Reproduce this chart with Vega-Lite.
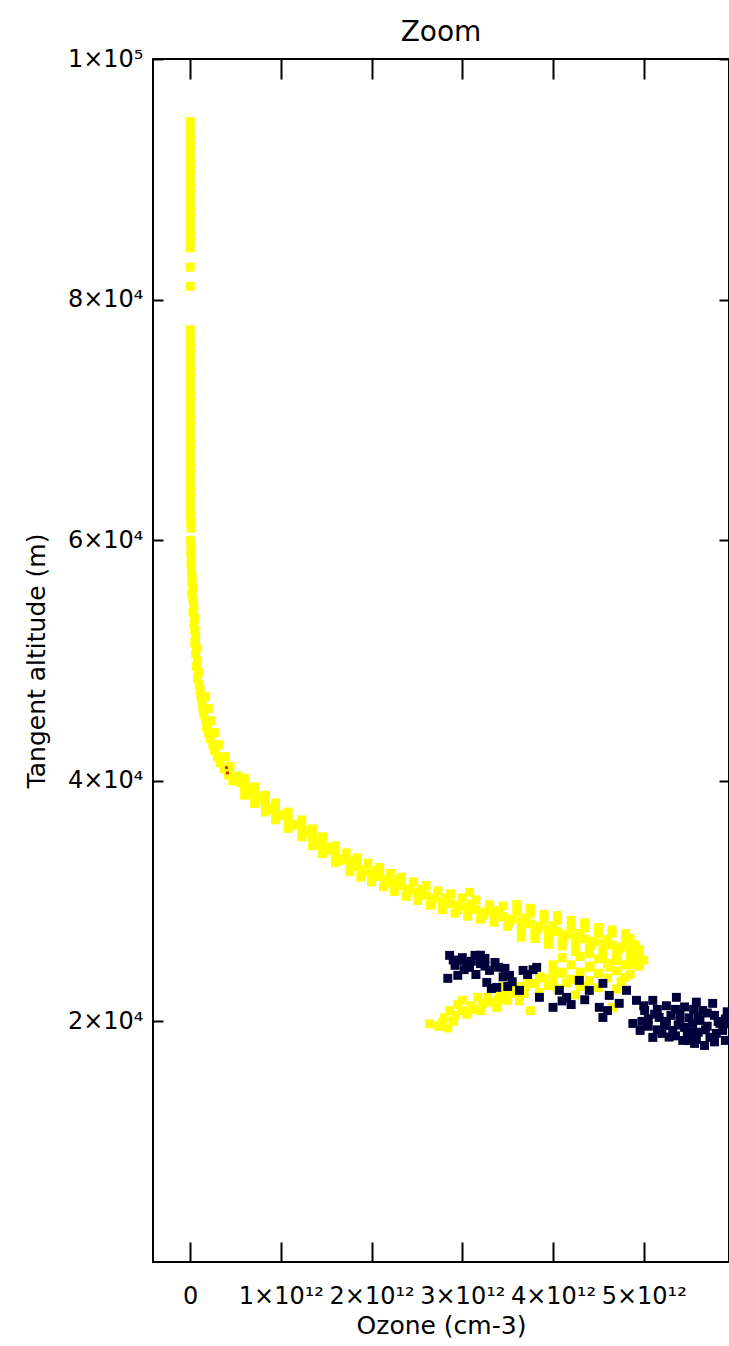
{
  "$schema": "https://vega.github.io/schema/vega-lite/v6.json",
  "autosize": {"type": "none"},
  "padding": {"left": 153, "top": 59, "right": 0, "bottom": 84},
  "width": 576,
  "height": 1203,
  "background": "white",
  "title": {"text": "Zoom", "fontSize": 28, "font": "DejaVu Sans", "fontWeight": "normal", "offset": 0, "anchor": "middle", "color": "black"},
  "config": {
    "view": {"stroke": "black", "strokeWidth": 2},
    "axis": {"labelFont": "DejaVu Sans", "titleFont": "DejaVu Sans", "labelFontSize": 24, "titleFontSize": 25, "titleFontWeight": "normal", "labelColor": "black", "titleColor": "black", "tickColor": "black", "domain": false, "grid": false, "tickWidth": 2}
  },
  "resolve": {"axis": {"x": "independent", "y": "independent"}},
  "layer": [
    {
      "data": {"values": [
        {"ozone":0,"altitude":94800},{"ozone":0,"altitude":94300},{"ozone":0,"altitude":93800},{"ozone":0,"altitude":93300},{"ozone":0,"altitude":92800},{"ozone":0,"altitude":92300},{"ozone":0,"altitude":91800},{"ozone":0,"altitude":91300},{"ozone":0,"altitude":90800},{"ozone":0,"altitude":90300},{"ozone":0,"altitude":89800},{"ozone":0,"altitude":89300},{"ozone":0,"altitude":88800},{"ozone":0,"altitude":88300},{"ozone":0,"altitude":87800},{"ozone":0,"altitude":87300},{"ozone":0,"altitude":86800},{"ozone":0,"altitude":86300},{"ozone":0,"altitude":85800},{"ozone":0,"altitude":85300},{"ozone":0,"altitude":84800},{"ozone":0,"altitude":84300},
        {"ozone":0,"altitude":82700},{"ozone":0,"altitude":81100},
        {"ozone":0,"altitude":77500},{"ozone":0,"altitude":77000},{"ozone":0,"altitude":76500},{"ozone":0,"altitude":76000},{"ozone":0,"altitude":75500},{"ozone":0,"altitude":75000},{"ozone":0,"altitude":74500},{"ozone":0,"altitude":74000},{"ozone":0,"altitude":73500},{"ozone":0,"altitude":73000},{"ozone":0,"altitude":72500},{"ozone":0,"altitude":72000},{"ozone":0,"altitude":71500},{"ozone":0,"altitude":71000},{"ozone":0,"altitude":70500},{"ozone":0,"altitude":70000},{"ozone":0,"altitude":69500},{"ozone":0,"altitude":69000},{"ozone":0,"altitude":68500},{"ozone":0,"altitude":68000},{"ozone":0,"altitude":67500},{"ozone":0,"altitude":67000},{"ozone":0,"altitude":66500},{"ozone":0,"altitude":66000},{"ozone":0,"altitude":65500},{"ozone":0,"altitude":65000},{"ozone":0,"altitude":64500},{"ozone":0,"altitude":64000},{"ozone":0,"altitude":63500},{"ozone":0,"altitude":63000},{"ozone":0,"altitude":62500},{"ozone":0,"altitude":62000},
        {"ozone":0.005e12,"altitude":61500},{"ozone":0.01e12,"altitude":61000},{"ozone":0,"altitude":60000},{"ozone":0.01e12,"altitude":59500},{"ozone":0.005e12,"altitude":59000},{"ozone":0.01e12,"altitude":58500},{"ozone":0.01e12,"altitude":58000},{"ozone":0.015e12,"altitude":57500},{"ozone":0.02e12,"altitude":57000},{"ozone":0.02e12,"altitude":56500},{"ozone":0.03e12,"altitude":56000},{"ozone":0.02e12,"altitude":55500},{"ozone":0.03e12,"altitude":55000},{"ozone":0.04e12,"altitude":54500},{"ozone":0.03e12,"altitude":54000},{"ozone":0.05e12,"altitude":53500},{"ozone":0.04e12,"altitude":53000},{"ozone":0.05e12,"altitude":52500},{"ozone":0.06e12,"altitude":52000},{"ozone":0.05e12,"altitude":51500},{"ozone":0.07e12,"altitude":51000},{"ozone":0.06e12,"altitude":50500},{"ozone":0.08e12,"altitude":50000},{"ozone":0.07e12,"altitude":49500},{"ozone":0.09e12,"altitude":49000},{"ozone":0.08e12,"altitude":48500},{"ozone":0.1e12,"altitude":48000},{"ozone":0.11e12,"altitude":47500},{"ozone":0.12e12,"altitude":47000},{"ozone":0.13e12,"altitude":46500},{"ozone":0.14e12,"altitude":46000},{"ozone":0.15e12,"altitude":45500},{"ozone":0.17e12,"altitude":45000},{"ozone":0.18e12,"altitude":44500},{"ozone":0.2e12,"altitude":44000},{"ozone":0.22e12,"altitude":43500},{"ozone":0.25e12,"altitude":43000},{"ozone":0.27e12,"altitude":42500},{"ozone":0.3e12,"altitude":42000},{"ozone":0.33e12,"altitude":41500},{"ozone":0.37e12,"altitude":41000},{"ozone":0.42e12,"altitude":40500},{"ozone":0.47e12,"altitude":40000},
        {"ozone":0.17e12,"altitude":47000},{"ozone":0.2e12,"altitude":46000},{"ozone":0.23e12,"altitude":45000},{"ozone":0.27e12,"altitude":44000},{"ozone":0.32e12,"altitude":43000},{"ozone":0.38e12,"altitude":42000},{"ozone":0.44e12,"altitude":41200},{"ozone":0.53e12,"altitude":40400},{"ozone":0.58e12,"altitude":39800},
        {"ozone":0.55e12,"altitude":39900},{"ozone":0.6e12,"altitude":39500},{"ozone":0.66e12,"altitude":39150},{"ozone":0.71e12,"altitude":38800},{"ozone":0.77e12,"altitude":38450},{"ozone":0.83e12,"altitude":38100},{"ozone":0.89e12,"altitude":37750},{"ozone":0.94e12,"altitude":37450},{"ozone":1.01e12,"altitude":37100},{"ozone":1.08e12,"altitude":36750},{"ozone":1.15e12,"altitude":36400},{"ozone":1.23e12,"altitude":36050},{"ozone":1.29e12,"altitude":35650},{"ozone":1.35e12,"altitude":35300},{"ozone":1.41e12,"altitude":34950},{"ozone":1.46e12,"altitude":34650},{"ozone":1.53e12,"altitude":34250},{"ozone":1.6e12,"altitude":33900},{"ozone":1.68e12,"altitude":33500},{"ozone":1.76e12,"altitude":33150},{"ozone":1.84e12,"altitude":32850},{"ozone":1.92e12,"altitude":32600},{"ozone":2.0e12,"altitude":32300},{"ozone":2.09e12,"altitude":32050},{"ozone":2.17e12,"altitude":31750},{"ozone":2.25e12,"altitude":31500},{"ozone":2.33e12,"altitude":31250},{"ozone":2.42e12,"altitude":31000},{"ozone":2.51e12,"altitude":30750},{"ozone":2.6e12,"altitude":30500},{"ozone":2.69e12,"altitude":30250},{"ozone":2.78e12,"altitude":30000},{"ozone":2.87e12,"altitude":29800},{"ozone":2.97e12,"altitude":29600},{"ozone":3.06e12,"altitude":29450},{"ozone":3.15e12,"altitude":29300},{"ozone":3.25e12,"altitude":29100},{"ozone":3.35e12,"altitude":28950},{"ozone":3.45e12,"altitude":28700},{"ozone":3.55e12,"altitude":28500},{"ozone":3.65e12,"altitude":28300},{"ozone":3.75e12,"altitude":28100},{"ozone":3.85e12,"altitude":27900},{"ozone":3.95e12,"altitude":27700},{"ozone":4.05e12,"altitude":27450},{"ozone":4.15e12,"altitude":27250},{"ozone":4.25e12,"altitude":27050},{"ozone":4.35e12,"altitude":26850},{"ozone":4.45e12,"altitude":26650},{"ozone":4.55e12,"altitude":26500},{"ozone":4.65e12,"altitude":26350},{"ozone":4.75e12,"altitude":26200},{"ozone":4.85e12,"altitude":26050},{"ozone":4.95e12,"altitude":25950},
        {"ozone":0.8e12,"altitude":38650},{"ozone":1.05e12,"altitude":37250},{"ozone":1.3e12,"altitude":35850},{"ozone":1.55e12,"altitude":34450},{"ozone":1.8e12,"altitude":33350},{"ozone":2.05e12,"altitude":32550},{"ozone":2.3e12,"altitude":31750},{"ozone":2.55e12,"altitude":31000},{"ozone":2.82e12,"altitude":30250},{"ozone":3.1e12,"altitude":29750},{"ozone":3.4e12,"altitude":29200},{"ozone":3.7e12,"altitude":28600},{"ozone":4.0e12,"altitude":27950},{"ozone":4.3e12,"altitude":27300},{"ozone":4.6e12,"altitude":26800},{"ozone":4.9e12,"altitude":26350},
        {"ozone":0.86e12,"altitude":37600},{"ozone":1.12e12,"altitude":36250},{"ozone":1.38e12,"altitude":34800},{"ozone":1.64e12,"altitude":33350},{"ozone":1.9e12,"altitude":32400},{"ozone":2.15e12,"altitude":31550},{"ozone":2.4e12,"altitude":30700},{"ozone":2.66e12,"altitude":30000},{"ozone":2.95e12,"altitude":29250},{"ozone":3.22e12,"altitude":28800},{"ozone":3.52e12,"altitude":28250},{"ozone":3.82e12,"altitude":27600},{"ozone":4.12e12,"altitude":26950},{"ozone":4.42e12,"altitude":26350},{"ozone":4.72e12,"altitude":25900},
        {"ozone":0.6e12,"altitude":40200},{"ozone":0.83e12,"altitude":38800},{"ozone":1.08e12,"altitude":37400},{"ozone":1.35e12,"altitude":36000},{"ozone":1.6e12,"altitude":34600},{"ozone":1.84e12,"altitude":33600},{"ozone":2.09e12,"altitude":32800},{"ozone":2.33e12,"altitude":32000},{"ozone":2.6e12,"altitude":31300},{"ozone":2.87e12,"altitude":30600},{"ozone":3.08e12,"altitude":30730},{"ozone":3.15e12,"altitude":30100},{"ozone":3.45e12,"altitude":29600},{"ozone":3.75e12,"altitude":29000},{"ozone":4.05e12,"altitude":28400},{"ozone":4.35e12,"altitude":27800},{"ozone":4.65e12,"altitude":27300},{"ozone":4.85e12,"altitude":26900},
        {"ozone":0.71e12,"altitude":39500},{"ozone":0.94e12,"altitude":38150},{"ozone":1.23e12,"altitude":36750},{"ozone":1.46e12,"altitude":35350},{"ozone":1.72e12,"altitude":34000},{"ozone":1.96e12,"altitude":33150},{"ozone":2.21e12,"altitude":32300},{"ozone":2.46e12,"altitude":31600},{"ozone":2.73e12,"altitude":30850},{"ozone":3.0e12,"altitude":30250},{"ozone":3.3e12,"altitude":29700},{"ozone":3.6e12,"altitude":29100},{"ozone":3.9e12,"altitude":28500},{"ozone":4.2e12,"altitude":27850},{"ozone":4.5e12,"altitude":27300},{"ozone":4.8e12,"altitude":26800},
        {"ozone":0.71e12,"altitude":38100},{"ozone":0.94e12,"altitude":36750},{"ozone":1.23e12,"altitude":35350},{"ozone":1.46e12,"altitude":33950},{"ozone":1.76e12,"altitude":32450},{"ozone":2.0e12,"altitude":31600},{"ozone":2.25e12,"altitude":30800},{"ozone":2.51e12,"altitude":30050},{"ozone":2.78e12,"altitude":29300},{"ozone":3.06e12,"altitude":28750},{"ozone":3.35e12,"altitude":28250},{"ozone":3.65e12,"altitude":27600},{"ozone":3.95e12,"altitude":27000},{"ozone":4.25e12,"altitude":26350},{"ozone":4.55e12,"altitude":25800},{"ozone":4.85e12,"altitude":25350},
        {"ozone":0.6e12,"altitude":38800},{"ozone":0.83e12,"altitude":37400},{"ozone":1.08e12,"altitude":36050},{"ozone":1.35e12,"altitude":34600},{"ozone":1.6e12,"altitude":33200},{"ozone":1.88e12,"altitude":32000},{"ozone":2.13e12,"altitude":31200},{"ozone":2.38e12,"altitude":30400},{"ozone":2.65e12,"altitude":29650},{"ozone":2.92e12,"altitude":29000},{"ozone":3.2e12,"altitude":28500},{"ozone":3.5e12,"altitude":27900},{"ozone":3.8e12,"altitude":27300},{"ozone":4.1e12,"altitude":26650},{"ozone":4.4e12,"altitude":26050},{"ozone":4.7e12,"altitude":25550},{"ozone":4.95e12,"altitude":25250},
        {"ozone":3.9e12,"altitude":28900},{"ozone":4.2e12,"altitude":28400},{"ozone":4.5e12,"altitude":27800},{"ozone":4.8e12,"altitude":27300},{"ozone":3.8e12,"altitude":26900},{"ozone":4.1e12,"altitude":26250},{"ozone":4.4e12,"altitude":25650},{"ozone":4.7e12,"altitude":25050},{"ozone":4.9e12,"altitude":24900},
        {"ozone":3.6e12,"altitude":29700},{"ozone":3.75e12,"altitude":29400},{"ozone":4.05e12,"altitude":28800},{"ozone":4.35e12,"altitude":28200},{"ozone":4.65e12,"altitude":27600},{"ozone":3.65e12,"altitude":27000},{"ozone":3.95e12,"altitude":26400},{"ozone":4.25e12,"altitude":25800},{"ozone":4.55e12,"altitude":25300},{"ozone":4.85e12,"altitude":24700},
        {"ozone":4.1e12,"altitude":25300},{"ozone":4.3e12,"altitude":25400},{"ozone":4.5e12,"altitude":25200},{"ozone":4.7e12,"altitude":25300},{"ozone":4.9e12,"altitude":25400},{"ozone":5.0e12,"altitude":25100},
        {"ozone":4.0e12,"altitude":24700},{"ozone":4.2e12,"altitude":24700},{"ozone":4.4e12,"altitude":24600},{"ozone":4.6e12,"altitude":24800},{"ozone":4.8e12,"altitude":24700},{"ozone":4.95e12,"altitude":24600},
        {"ozone":4.1e12,"altitude":24100},{"ozone":4.3e12,"altitude":24100},{"ozone":4.5e12,"altitude":24000},{"ozone":4.7e12,"altitude":24200},{"ozone":4.85e12,"altitude":23900},
        {"ozone":4.2e12,"altitude":23500},{"ozone":4.4e12,"altitude":23400},{"ozone":4.6e12,"altitude":23600},{"ozone":4.75e12,"altitude":23300},
        {"ozone":4.3e12,"altitude":22900},{"ozone":4.5e12,"altitude":22800},{"ozone":4.7e12,"altitude":22700},
        {"ozone":2.64e12,"altitude":19800},{"ozone":2.74e12,"altitude":19600},{"ozone":2.84e12,"altitude":19450},{"ozone":2.8e12,"altitude":20300},{"ozone":2.9e12,"altitude":20000},{"ozone":2.86e12,"altitude":20900},{"ozone":2.95e12,"altitude":21400},{"ozone":3.0e12,"altitude":21750},{"ozone":3.05e12,"altitude":20600},{"ozone":3.1e12,"altitude":21300},{"ozone":3.17e12,"altitude":22000},{"ozone":3.2e12,"altitude":20900},{"ozone":3.3e12,"altitude":21600},{"ozone":3.38e12,"altitude":21170},{"ozone":3.42e12,"altitude":22200},{"ozone":3.5e12,"altitude":21750},{"ozone":3.55e12,"altitude":22600},{"ozone":3.59e12,"altitude":22330},{"ozone":3.63e12,"altitude":21700},{"ozone":3.7e12,"altitude":22900},{"ozone":3.75e12,"altitude":20900},{"ozone":3.8e12,"altitude":23160},{"ozone":3.85e12,"altitude":22400},{"ozone":3.9e12,"altitude":23600},{"ozone":4.0e12,"altitude":23410},{"ozone":4.05e12,"altitude":22700},{"ozone":4.1e12,"altitude":24000},{"ozone":4.41e12,"altitude":24490},{"ozone":4.62e12,"altitude":24490},{"ozone":4.79e12,"altitude":23660},{"ozone":4.66e12,"altitude":21170},{"ozone":3.45e12,"altitude":22900},
        {"ozone":2.78e12,"altitude":19900},{"ozone":2.92e12,"altitude":20500},{"ozone":3.0e12,"altitude":20900},{"ozone":3.12e12,"altitude":21000},{"ozone":3.22e12,"altitude":21500},{"ozone":3.28e12,"altitude":22000},{"ozone":3.4e12,"altitude":21800},{"ozone":3.48e12,"altitude":22400},{"ozone":3.6e12,"altitude":22900},{"ozone":3.68e12,"altitude":22300},{"ozone":3.72e12,"altitude":23300},{"ozone":3.95e12,"altitude":23000},{"ozone":4.0e12,"altitude":24000},{"ozone":3.85e12,"altitude":23700},{"ozone":4.15e12,"altitude":23200},{"ozone":4.25e12,"altitude":22200},{"ozone":4.35e12,"altitude":23000}
      ]},
      "mark": {"type": "square", "size": 80, "filled": true, "opacity": 1, "color": "#ffff00", "clip": true},
      "encoding": {
        "x": {"field": "ozone", "type": "quantitative", "scale": {"domain": [-0.41e12, 5.94e12], "nice": false, "zero": false},
              "axis": {"orient": "bottom", "values": [0, 1e12, 2e12, 3e12, 4e12, 5e12], "tickSize": -20, "labelPadding": 42, "labelExpr": "datum.value == 0 ? '0' : format(datum.value / 1e12, 'd') + '×10¹²'", "title": "Ozone (cm-3)", "titlePadding": 5}},
        "y": {"field": "altitude", "type": "quantitative", "scale": {"domain": [0, 100000], "nice": false},
              "axis": {"orient": "left", "values": [20000, 40000, 60000, 80000, 100000], "tickSize": -10, "labelPadding": 20, "labelExpr": "datum.value == 100000 ? '1×10⁵' : format(datum.value / 1e4, 'd') + '×10⁴'", "title": "Tangent altitude (m)", "titlePadding": 18}}
      }
    },
    {
      "data": {"values": [
        {"ozone":2.86e12,"altitude":25490},{"ozone":2.99e12,"altitude":25070},{"ozone":3.14e12,"altitude":25490},{"ozone":2.92e12,"altitude":24660},{"ozone":3.08e12,"altitude":24490},{"ozone":2.84e12,"altitude":23580},{"ozone":3.25e12,"altitude":25240},{"ozone":3.36e12,"altitude":24900},{"ozone":3.47e12,"altitude":24410},{"ozone":3.3e12,"altitude":24240},{"ozone":3.27e12,"altitude":23240},{"ozone":3.32e12,"altitude":22740},{"ozone":3.38e12,"altitude":22830},{"ozone":3.67e12,"altitude":24240},{"ozone":3.82e12,"altitude":24490},{"ozone":3.85e12,"altitude":22000},{"ozone":4.0e12,"altitude":21170},{"ozone":4.15e12,"altitude":22000},{"ozone":4.29e12,"altitude":23410},{"ozone":4.55e12,"altitude":23160},{"ozone":4.51e12,"altitude":21170},{"ozone":4.55e12,"altitude":20330},{"ozone":4.81e12,"altitude":22580},{"ozone":4.92e12,"altitude":21750},{"ozone":5.1e12,"altitude":21750},{"ozone":4.88e12,"altitude":19830},{"ozone":5.17e12,"altitude":20330},{"ozone":5.36e12,"altitude":22000},{"ozone":5.4e12,"altitude":20660},{"ozone":5.54e12,"altitude":19830},{"ozone":5.65e12,"altitude":20910},{"ozone":5.76e12,"altitude":21500},{"ozone":5.84e12,"altitude":19830},{"ozone":5.1e12,"altitude":18670},{"ozone":5.43e12,"altitude":18420},{"ozone":5.73e12,"altitude":18670},{"ozone":5.32e12,"altitude":19250},{"ozone":5.87e12,"altitude":19250},{"ozone":5.01e12,"altitude":20910},{"ozone":5.23e12,"altitude":19670},{"ozone":5.51e12,"altitude":19080},{"ozone":5.62e12,"altitude":20080},{"ozone":5.78e12,"altitude":20500},{"ozone":5.9e12,"altitude":18420},{"ozone":4.96e12,"altitude":19250},{"ozone":5.56e12,"altitude":18170},{"ozone":5.67e12,"altitude":18000},{"ozone":4.73e12,"altitude":21500},{"ozone":4.62e12,"altitude":22160},{"ozone":4.4e12,"altitude":22580},{"ozone":4.07e12,"altitude":22580},{"ozone":3.63e12,"altitude":22580},{"ozone":3.52e12,"altitude":23830},{"ozone":2.95e12,"altitude":23830},
        {"ozone":5.3e12,"altitude":20500},{"ozone":5.45e12,"altitude":19500},{"ozone":5.6e12,"altitude":19100},{"ozone":5.7e12,"altitude":19600},{"ozone":5.2e12,"altitude":19000},{"ozone":5.35e12,"altitude":18800},{"ozone":5.5e12,"altitude":20300},{"ozone":5.8e12,"altitude":19000},{"ozone":5.05e12,"altitude":20200},{"ozone":5.15e12,"altitude":21000},{"ozone":5.25e12,"altitude":21300},{"ozone":5.45e12,"altitude":21200},{"ozone":5.58e12,"altitude":21600},{"ozone":5.9e12,"altitude":20200},{"ozone":5.0e12,"altitude":21300},{"ozone":3.0e12,"altitude":25300},{"ozone":3.05e12,"altitude":24800},{"ozone":3.2e12,"altitude":24800},
        {"ozone":5.05e12,"altitude":19600},{"ozone":5.15e12,"altitude":19300},{"ozone":5.28e12,"altitude":18700},{"ozone":5.38e12,"altitude":19700},{"ozone":5.48e12,"altitude":18900},{"ozone":5.58e12,"altitude":18500},{"ozone":5.68e12,"altitude":19300},{"ozone":5.78e12,"altitude":18300},{"ozone":5.88e12,"altitude":19800},{"ozone":5.92e12,"altitude":20800},{"ozone":5.7e12,"altitude":20700},{"ozone":5.6e12,"altitude":20400},{"ozone":5.4e12,"altitude":20000},{"ozone":5.25e12,"altitude":20000},{"ozone":5.12e12,"altitude":20600},{"ozone":4.98e12,"altitude":20000},{"ozone":5.35e12,"altitude":21000},{"ozone":5.55e12,"altitude":21000},{"ozone":5.82e12,"altitude":20000},{"ozone":5.5e12,"altitude":18400},
        {"ozone":2.9e12,"altitude":25100},{"ozone":3.1e12,"altitude":25000},{"ozone":3.2e12,"altitude":25500},{"ozone":3.4e12,"altitude":24500},{"ozone":3.02e12,"altitude":24300},{"ozone":3.15e12,"altitude":23900},{"ozone":3.25e12,"altitude":24600},{"ozone":3.45e12,"altitude":23700},{"ozone":3.55e12,"altitude":23300},{"ozone":3.5e12,"altitude":22900},{"ozone":3.72e12,"altitude":23900},{"ozone":3.78e12,"altitude":24300},{"ozone":4.1e12,"altitude":21700},{"ozone":4.2e12,"altitude":21400},{"ozone":4.35e12,"altitude":21800},{"ozone":4.6e12,"altitude":20900}
      ]},
      "mark": {"type": "square", "size": 80, "filled": true, "opacity": 1, "color": "#00003a", "clip": true},
      "encoding": {
        "x": {"field": "ozone", "type": "quantitative", "axis": {"orient": "top", "values": [0, 1e12, 2e12, 3e12, 4e12, 5e12], "tickSize": -20, "labels": false, "title": null}},
        "y": {"field": "altitude", "type": "quantitative", "axis": {"orient": "right", "values": [20000, 40000, 60000, 80000, 100000], "tickSize": -10, "labels": false, "title": null}}
      }
    },
    {
      "data": {"values": [
        {"ozone":0.4e12,"altitude":41100},{"ozone":0.41e12,"altitude":40650}
      ]},
      "mark": {"type": "square", "size": 8, "filled": true, "opacity": 1, "color": "#cc2200", "clip": true},
      "encoding": {
        "x": {"field": "ozone", "type": "quantitative", "axis": null},
        "y": {"field": "altitude", "type": "quantitative", "axis": null}
      }
    }
  ]
}
